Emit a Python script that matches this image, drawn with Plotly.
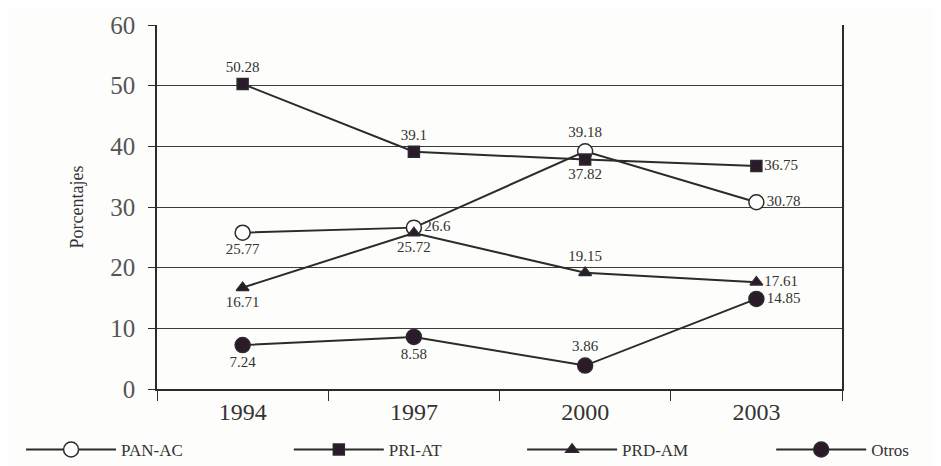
import plotly.graph_objects as go

years = ["1994", "1997", "2000", "2003"]
pan_ac = [25.77, 26.6, 39.18, 30.78]
pri_at = [50.28, 39.1, 37.82, 36.75]
prd_am = [16.71, 25.72, 19.15, 17.61]
otros = [7.24, 8.58, 3.86, 14.85]
y_ticks = [0, 10, 20, 30, 40, 50, 60]

pan_pos = ["bottom center", "middle right", "top center", "middle right"]
pri_pos = ["top center", "top center", "bottom center", "middle right"]
prd_pos = ["bottom center", "bottom center", "top center", "middle right"]
otr_pos = ["bottom center", "bottom center", "top center", "middle right"]

LINE = "#2b2b2b"
FONT = "Liberation Serif"

fig = go.Figure()

def add(name, vals, pos, symbol, fill, size, legend):
    fig.add_trace(go.Scatter(
        x=years, y=vals, name=name, mode="lines+markers+text",
        line=dict(color=LINE, width=2),
        marker=dict(symbol=symbol, size=size, color=fill,
                    line=dict(color=LINE, width=1.5)),
        text=[str(v) for v in vals], textposition=pos,
        textfont=dict(family=FONT, size=15, color="#333333"),
        cliponaxis=False, legend=legend,
    ))

add("PAN-AC", pan_ac, pan_pos, "circle", "white", 15, "legend")
add("PRI-AT", pri_at, pri_pos, "square", "#2a1a2a", 11, "legend2")
add("PRD-AM", prd_am, prd_pos, "triangle-up", "#2a1a2a", 11, "legend3")
add("Otros", otros, otr_pos, "circle", "#2a1a2a", 15, "legend4")

def leg(x):
    return dict(orientation="h", xref="container", yref="container",
                x=x, y=0.035, xanchor="left", yanchor="middle",
                itemwidth=90, font=dict(family=FONT, size=17, color="#333333"),
                bgcolor="rgba(0,0,0,0)")

fig.update_layout(
    width=933, height=458,
    margin=dict(l=149, r=99, t=17, b=77),
    paper_bgcolor="#fdfdfb", plot_bgcolor="#fdfdfb",
    font=dict(family=FONT, color="#333333"),
    showlegend=True,
    legend=leg(0.014), legend2=leg(0.301), legend3=leg(0.551), legend4=leg(0.818),
)
fig.update_xaxes(
    type="category", range=[-0.5, 3.5], tickson="boundaries", automargin=False,
    ticks="outside", ticklen=10, tickcolor=LINE,
    showline=True, linecolor=LINE, linewidth=1.5, showgrid=False,
    tickfont=dict(family=FONT, size=24, color="#333333"),
)
fig.update_yaxes(
    range=[0, 60], tickvals=y_ticks, automargin=False,
    ticks="outside", ticklen=7, tickcolor=LINE, ticklabelstandoff=8,
    showline=True, mirror=True, linecolor=LINE, linewidth=1.5,
    showgrid=True, gridcolor="#3a3a3a", gridwidth=1.2,
    tickfont=dict(family=FONT, size=25, color="#555555"),
    title=dict(text="Porcentajes", font=dict(family=FONT, size=18, color="#333333"), standoff=22),
)

fig.write_html("out.html")
